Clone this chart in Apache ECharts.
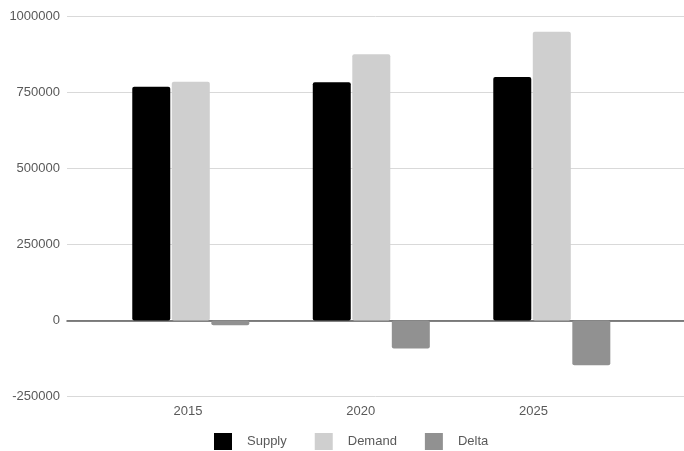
<!DOCTYPE html>
<html><head><meta charset="utf-8">
<script src="https://cdn.jsdelivr.net/npm/echarts@6/dist/echarts.min.js"></script>
<style>html,body{margin:0;padding:0;background:#fff}#c{width:684px;height:451px}</style>
</head><body><div id="c"></div>
<script>
const years = [2015, 2020, 2025];
const yearLabels = ['2015', '2020', '2025'];
const supply = [769000, 784000, 801000];
const demand = [785000, 876000, 950000];
const delta = [-16000, -92000, -147000];
const seriesNames = ['Supply', 'Demand', 'Delta'];

const font = 'Liberation Sans, Arial, sans-serif';
const txt = '#595959';
const pair = arr => arr.map((v, i) => [years[i], v]);

const chart = echarts.init(document.getElementById('c'), null, {renderer: 'canvas'});
chart.setOption({
  animation: false,
  backgroundColor: '#fff',
  grid: [
    {left: 67, right: 0, top: 16.5, bottom: 54.5},
    {left: 101.5, right: 64, top: 16.5, bottom: 54.5}
  ],
  xAxis: [
    {type: 'value', gridIndex: 0, min: 2011.571, max: 2028.662,
     axisLabel: {show: false}, axisTick: {show: false}, splitLine: {show: false},
     axisLine: {show: true, onZero: true, lineStyle: {color: '#595959', width: 1.5}}},
    {type: 'category', gridIndex: 1, data: yearLabels, boundaryGap: true,
     axisLine: {show: false}, axisTick: {show: false}, splitLine: {show: false},
     axisLabel: {color: txt, fontSize: 13, fontFamily: font, margin: 8}}
  ],
  yAxis: [
    {type: 'value', gridIndex: 0, min: -250000, max: 1000000, interval: 250000,
     axisLine: {show: false}, axisTick: {show: false},
     axisLabel: {color: txt, fontSize: 13, fontFamily: font, margin: 7, formatter: v => String(v)},
     splitLine: {lineStyle: {color: '#d9d9d9', width: 1}}},
    {type: 'value', gridIndex: 1, min: -250000, max: 1000000, show: false}
  ],
  legend: {
    top: 433, left: 214, padding: 0,
    itemWidth: 18, itemHeight: 17, itemGap: 28,
    icon: 'rect',
    textStyle: {color: txt, fontSize: 13, fontFamily: font, padding: [0, 0, 0, 10], lineHeight: 17},
    data: seriesNames
  },
  series: [
    {name: seriesNames[0], type: 'bar', xAxisIndex: 0, yAxisIndex: 0, data: pair(supply),
     barWidth: 38, barGap: '4%', itemStyle: {color: '#000000', borderRadius: 2}},
    {name: seriesNames[1], type: 'bar', xAxisIndex: 0, yAxisIndex: 0, data: pair(demand),
     barWidth: 38, barGap: '4%', itemStyle: {color: '#cfcfcf', borderRadius: 2}},
    {name: seriesNames[2], type: 'bar', xAxisIndex: 0, yAxisIndex: 0, data: pair(delta),
     barWidth: 38, barGap: '4%', itemStyle: {color: '#919191', borderRadius: 2}}
  ]
});
</script></body></html>
